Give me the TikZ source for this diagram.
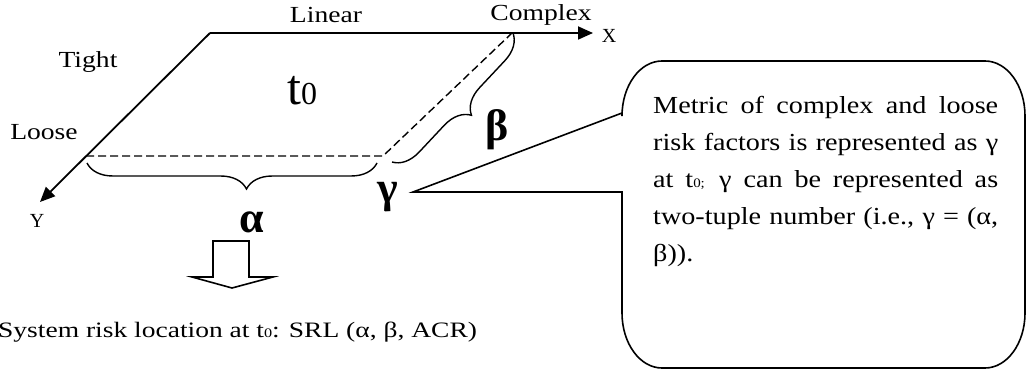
\documentclass[tikz,border=0pt]{standalone}
\usepackage{fontspec}
\setmainfont{Liberation Serif}
\newfontfamily\widefont{Liberation Serif}[FakeStretch=1.2]
\newfontfamily\notefont{Liberation Serif}[FakeStretch=1.15]
\newfontfamily\srlfont{Liberation Serif}[FakeStretch=1.25]
\usetikzlibrary{arrows.meta,decorations.pathreplacing}
\tikzset{
  >={Triangle[length=15pt,width=13pt]},
  axis/.style={->,line width=1.8pt},
  edge/.style={dash pattern=on 8pt off 4pt,line width=1.4pt},
  brc/.style={decorate,decoration={brace,amplitude=26pt,aspect=#1},line width=1.4pt},
  lab/.style={font=\widefont\fontsize{23}{23}\selectfont,inner sep=0pt,anchor=base},
  axlab/.style={font=\fontsize{20}{20}\selectfont,inner sep=0pt,anchor=base},
  grk/.style={font=\bfseries\fontsize{44}{44}\selectfont,inner sep=0pt},
  callout/.style={line width=1.6pt},
  blk/.style={line width=1.6pt},
}
\newcommand{\sub}[1]{{\fontsize{13}{13}\selectfont #1}}

\begin{document}
\begin{tikzpicture}[x=1pt,y=1pt]
  \useasboundingbox (0,0) rectangle (1027,370);
  % --- plane corners ---
  \coordinate (tl) at (210,337);
  \coordinate (tr) at (512,337);
  \coordinate (bl) at (86,214);
  \coordinate (br) at (383,214);
  \coordinate (xend) at (593,337);
  \coordinate (yend) at (40,168);
  % --- axes and dashed edges ---
  \draw[axis] (tl) -- (xend);
  \draw[axis] (tl) -- (yend);
  \draw[edge] (bl) -- (br) -- (tr);
  % --- axis labels ---
  \node[lab] (linear) at (326,347) {Linear};
  \node[lab] (complex) at (541,349) {Complex};
  \node[lab] (tight) at (88,302) {Tight};
  \node[lab] (loose) at (44,230) {Loose};
  \node[axlab] (xlab) at (609,327) {X};
  \node[axlab] (ylab) at (37,143) {Y};
  \node[inner sep=0pt,anchor=base west] (time) at (287,265)
    {\fontsize{50}{50}\selectfont t\fontsize{32}{32}\selectfont 0};
  % --- braces ---
  \coordinate (a1) at (377,207);
  \coordinate (a2) at (87,207);
  \coordinate (b1) at (513,337);
  \coordinate (b2) at (392,208);
  \draw[brc=0.45] (a1) -- (a2);
  \draw[brc=0.5] (b1) -- (b2);
  \node[grk] (alpha) at (252,148) {α};
  \node[grk] (beta) at (497,240) {β};
  \node[grk] (gamma) at (388,173) {γ};
  % --- callout ---
  \coordinate (tip) at (413,178);
  \draw[callout] (tip) -- (622,257) -- (622,254)
    arc[start angle=180,end angle=90,x radius=40,y radius=55] -- (985,309)
    arc[start angle=90,end angle=0,x radius=40,y radius=55] -- (1025,57)
    arc[start angle=0,end angle=-90,x radius=40,y radius=55] -- (662,2)
    arc[start angle=270,end angle=180,x radius=40,y radius=55] -- (622,178) -- cycle;
  \node[inner sep=0pt,anchor=north west,text width=345pt,align=justify,
        font=\notefont\fontsize{24.5}{37}\selectfont] (note) at (653,274)
    {Metric of complex and loose\linebreak
     risk factors is represented as γ\linebreak
     at t\sub{0;} γ can be represented as\linebreak
     two-tuple number (i.e., γ = (α,\linebreak
     β)).};
  % --- block arrow and result ---
  \draw[blk] (213,129) -- (213,93) -- (192,93) -- (232,82) -- (273,93)
    -- (249,93) -- (249,129) -- cycle;
  \node[inner sep=0pt,anchor=base west,font=\srlfont\fontsize{22}{22}\selectfont] (srl) at (-2,33)
    {System risk location at t\sub{0}: SRL (α, β, ACR)};
\end{tikzpicture}
\end{document}
